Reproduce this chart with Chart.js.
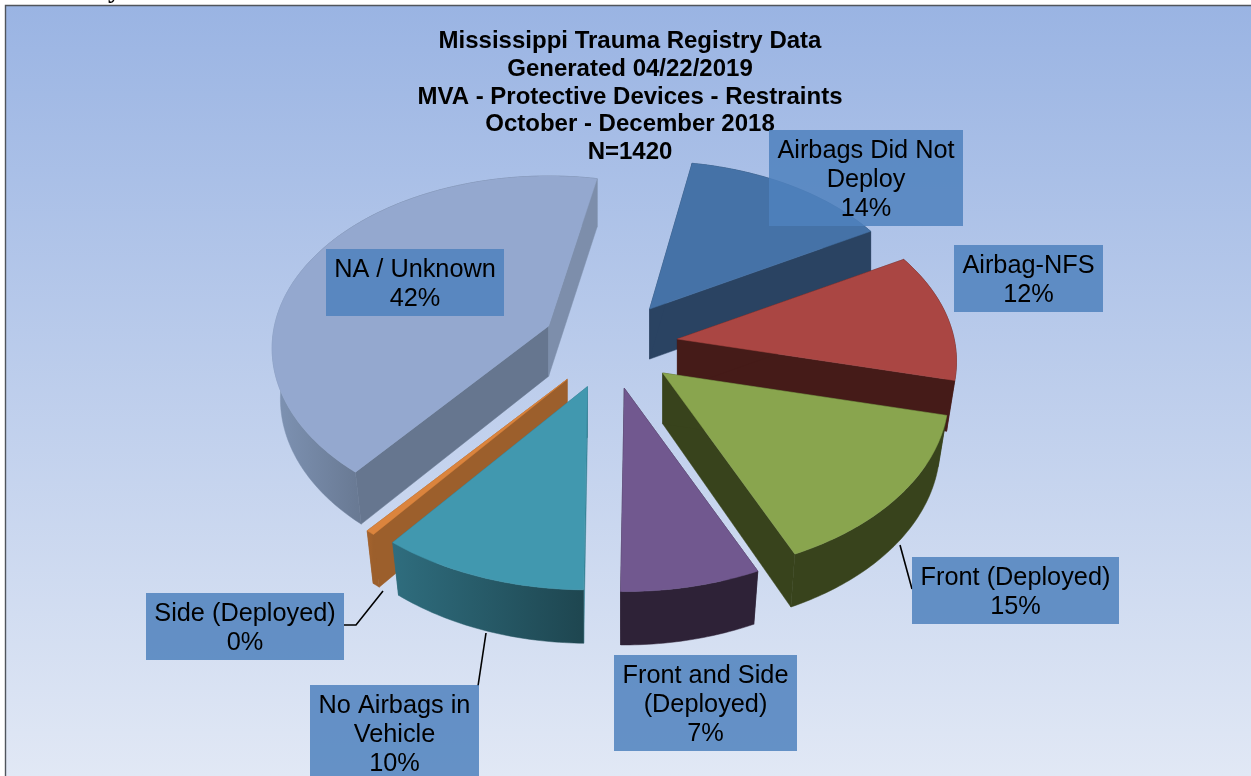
<!DOCTYPE html>
<html>
<head>
<meta charset="utf-8">
<style>html,body{margin:0;padding:0;background:#fff;overflow:hidden}canvas{display:block}</style>
<script src="https://cdn.jsdelivr.net/npm/chart.js@4/dist/chart.umd.js"></script>
</head>
<body>
<canvas id="c" width="1251" height="776"></canvas>
<script>
// ---- data ----
const categories = ["Airbags Did Not Deploy","Airbag-NFS","Front (Deployed)","Front and Side (Deployed)","No Airbags in Vehicle","Side (Deployed)","NA / Unknown"];
const counts = [199,170,213,99,142,6,591];
const titleLines = ["Mississippi Trauma Registry Data","Generated 04/22/2019","MVA - Protective Devices - Restraints","October - December 2018","N=1420"];

// ---- styles ----
const topColors = ["#4572a7","#aa4643","#89a54e","#71588f","#4198af","#db843d","#94a8cf"];
const endWall   = ["#2a4362","#451b18","#38431c","#2e2237","#2f6d7e","#9c5f2c","#7d8eab"];
const startWall = ["#2a4362","#451b18","#38431c","#2e2237","#347f92","#9c5f2c","#66768f"];
const outerA    = ["#2a4362","#451b18","#38431c","#2e2237","#2f6d7e","#a5632d","#7f94b5"];
const outerB    = ["#2a4362","#451b18","#38431c","#2e2237","#1e4650","#9c5f2c","#66768f"];

// label boxes: wrapped text and box rectangle [x, y, w, h]
const labelLines = [["Airbags Did Not","Deploy"],["Airbag-NFS"],["Front (Deployed)"],["Front and Side","(Deployed)"],["No Airbags in","Vehicle"],["Side (Deployed)"],["NA / Unknown"]];
const labelBoxes = [[769,130,194,96],[954,245,149,67],[912,557,207,67],[614,655,183,96],[310,685,169,96],[146,593,198,67],[326,249,178,67]];
const leaders = [[[900,545],[912,589]],[[486,633],[478,686]],[[383,591],[356,625],[344,625]]];

// projection of the pie plane
const VIEW = {cx:610, cy:345, squash:0.65, rimSquash:0.63, persp:0.13, shrink:0.03};

function warp(a){ // small angular distortion of the perspective view
  const t = a*180/Math.PI + 90;
  const w = 2.7*Math.exp(-Math.pow((t-165)/50,2)) - 1.3*Math.exp(-Math.pow((t-370)/40,2));
  return a - w*Math.PI/180;
}
function topPoint(ax, ay, R, a0){
  const a = warp(a0);
  const px = Math.cos(a)*R, py = Math.sin(a)*R;
  const f = 1 + VIEW.persp*(py + (ay-VIEW.cy)/VIEW.squash)/R;
  return [ax + px*f, ay + py*VIEW.rimSquash*f];
}
function dropFrom(ax, ay){
  return p => {
    const d = 50 + (p[1]-308)*0.012;
    const s = 1 - VIEW.shrink*Math.min(1,Math.max(0,(p[1]-ay+60)/60));
    return [ax + (p[0]-ax)*s, p[1]+d];
  };
}
function poly(ctx, pts, fill){
  ctx.beginPath();
  pts.forEach((p,i)=> i?ctx.lineTo(p[0],p[1]):ctx.moveTo(p[0],p[1]));
  ctx.closePath();
  ctx.fillStyle = fill;
  ctx.fill();
  ctx.strokeStyle = fill;
  ctx.lineWidth = 0.5;
  ctx.stroke();
}

class Arc3D extends Chart.ArcElement {
  static id = 'arc3d';
  static defaults = Chart.ArcElement.defaults;
  apex(){
    const {startAngle,endAngle} = this.getProps(['startAngle','endAngle'],true);
    const mid = warp((startAngle+endAngle)/2), off = this.options.offset;
    return [VIEW.cx + Math.cos(mid)*off, VIEW.cy + Math.sin(mid)*off*VIEW.squash];
  }
  draw(ctx){
    const {startAngle,endAngle,outerRadius} = this.getProps(['startAngle','endAngle','outerRadius'],true);
    const i = this.$context.index;
    const [ax,ay] = this.apex();
    const drop = dropFrom(ax,ay);
    const n = Math.max(2,Math.ceil((endAngle-startAngle)/0.015));
    const arc = [];
    for(let k=0;k<=n;k++) arc.push(topPoint(ax,ay,outerRadius,startAngle+(endAngle-startAngle)*k/n));
    const A=[ax,ay], first=arc[0], last=arc[n];
    ctx.save();
    const xs = arc.map(p=>p[0]);
    const x0 = Math.min(...xs), x1 = Math.max(...xs);
    const g = ctx.createLinearGradient(i===6?270:x0,0,i===6?370:x1,0);
    g.addColorStop(0,outerA[i]); g.addColorStop(1,outerB[i]);
    const walls = [[last,endWall[i]],[first,startWall[i]]];
    const paint = w => poly(ctx,[A,w[0],drop(w[0]),drop(A)],w[1]);
    // walls on the near side sit under the rim, walls on the far side over it
    walls.filter(w=>w[0][1]>=ay).forEach(paint);
    poly(ctx,arc.concat(arc.map(drop).reverse()),g);
    walls.filter(w=>w[0][1]<ay).forEach(paint);
    poly(ctx,[A].concat(arc),topColors[i]);
    ctx.restore();
  }
}
class Pie3D extends Chart.PieController {
  static id = 'pie3d';
  static defaults = {dataElementType:'arc3d'};
  static overrides = Chart.PieController.overrides;
  draw(){
    const ctx = this.chart.ctx;
    const els = this._cachedMeta.data.slice();
    els.sort((a,b)=>a.apex()[1]-b.apex()[1]);
    els.forEach(e=>e.draw(ctx));
  }
}
Chart.register(Arc3D,Pie3D);

const frame = {
  id:'frame',
  beforeDraw(chart){
    const {ctx,width,height} = chart;
    ctx.save();
    ctx.fillStyle='#fff'; ctx.fillRect(0,0,width,height);
    const g = ctx.createLinearGradient(0,6,0,height);
    g.addColorStop(0,'#9ab4e3'); g.addColorStop(1,'#e1e8f5');
    ctx.fillStyle=g; ctx.fillRect(6,6,width-6,height-6);
    ctx.strokeStyle='#50555c'; ctx.lineWidth=1.4;
    ctx.beginPath(); ctx.moveTo(5.5,height); ctx.lineTo(5.5,5.5); ctx.lineTo(width,5.5); ctx.stroke();
    ctx.fillStyle='#000'; ctx.font='bold 26px "Liberation Serif"'; ctx.textAlign='left'; ctx.textBaseline='alphabetic';
    ctx.save(); ctx.beginPath(); ctx.rect(100,0,30,5); ctx.clip();
    ctx.fillText('y',108,-2);
    ctx.restore();
    ctx.restore();
  }
};
const boxes = {
  id:'boxes',
  afterDatasetsDraw(chart){
    const {ctx} = chart;
    const total = counts.reduce((a,b)=>a+b,0);
    ctx.save();
    ctx.strokeStyle='#000'; ctx.lineWidth=1.6;
    leaders.forEach(l=>{ctx.beginPath(); l.forEach((p,i)=>i?ctx.lineTo(p[0],p[1]):ctx.moveTo(p[0],p[1])); ctx.stroke();});
    categories.forEach((c,i)=>{
      const [x,y,w,h] = labelBoxes[i];
      ctx.fillStyle='rgba(79,129,189,0.85)';
      ctx.fillRect(x,y,w,h);
      const lines = labelLines[i].concat(Math.round(counts[i]/total*100)+'%');
      ctx.fillStyle='#000';
      ctx.font='25.3px "Liberation Sans"';
      ctx.textAlign='center'; ctx.textBaseline='middle';
      lines.forEach((t,j)=>ctx.fillText(t,x+w/2,y+21.5+j*29));
    });
    ctx.restore();
  }
};

new Chart(document.getElementById('c'),{
  type:'pie3d',
  data:{labels:categories,datasets:[{data:counts,backgroundColor:topColors,offset:68,borderWidth:0,radius:278}]},
  options:{
    responsive:false,
    animation:false,
    rotation:10.4,
    layout:{padding:{left:9,top:28}},
    plugins:{
      legend:{display:false},
      tooltip:{enabled:false},
      title:{display:true,text:titleLines,color:'#000',align:'center',padding:0,
        font:{family:'"Liberation Sans"',size:24,weight:'bold',lineHeight:1.15}}
    }
  },
  plugins:[frame,boxes]
});
</script>
</body>
</html>
